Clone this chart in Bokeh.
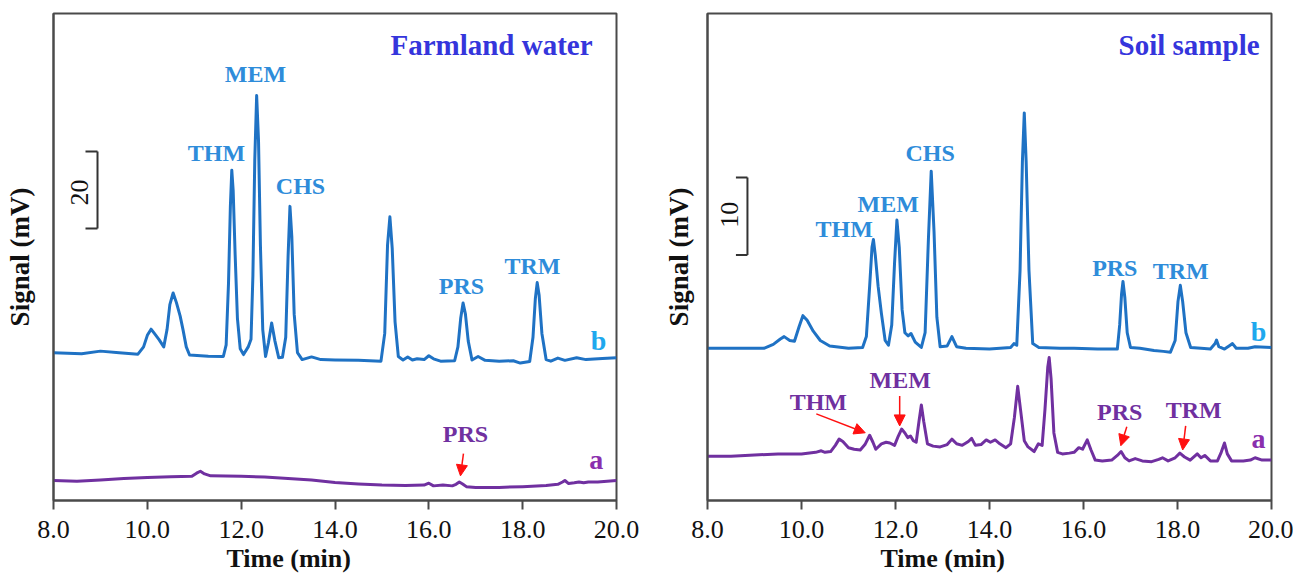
import math
from bokeh.plotting import figure
from bokeh.layouts import row
from bokeh.models import Range1d, FixedTicker, PrintfTickFormatter, Label, Arrow, NormalHead, Title
from bokeh.embed import file_html
from bokeh.resources import INLINE

# ---------------- data ----------------
TICKS = [8, 10, 12, 14, 16, 18, 20]

# Farmland water, trace b (spiked), signal in mV above its baseline
FW_B_T = [8.0, 8.6, 9.0, 9.4, 9.8, 9.92, 10.0, 10.08, 10.15, 10.25, 10.35, 10.42, 10.48, 10.55,
          10.62, 10.7, 10.76, 10.83, 10.9, 11.3, 11.62, 11.68, 11.73, 11.77, 11.8, 11.83, 11.87,
          11.92, 11.98, 12.05, 12.15, 12.21, 12.25, 12.29, 12.33, 12.37, 12.41, 12.46, 12.52,
          12.58, 12.65, 12.72, 12.8, 12.88, 12.95, 13.0, 13.04, 13.08, 13.13, 13.2, 13.3, 13.5,
          13.7, 14.0, 14.5, 14.98, 15.06, 15.12, 15.17, 15.22, 15.28, 15.35, 15.45, 15.55, 15.65,
          15.75, 15.9, 16.0, 16.1, 16.25, 16.55, 16.62, 16.68, 16.73, 16.78, 16.84, 16.92, 17.05,
          17.2, 17.5, 17.8, 17.95, 18.15, 18.22, 18.27, 18.31, 18.35, 18.41, 18.5, 18.6, 18.75,
          18.9, 19.15, 19.35, 19.7, 20.0]
FW_B_S = [0.0, -0.3, 0.4, 0.0, -0.4, 1.5, 4.5, 6.1, 5.0, 3.4, 1.5, 6.0, 12.5, 15.5,
          13.0, 9.5, 6.0, 1.5, -0.6, -0.9, -1.0, 2.0, 18.0, 38.0, 47.4, 42.0, 26.0,
          9.0, 1.0, -0.5, 1.5, 3.5, 20.0, 50.0, 66.8, 55.0, 28.0, 6.0, -1.0,
          2.5, 7.7, 3.0, -1.3, -1.2, 4.0, 25.0, 38.0, 30.0, 10.0, 0.0, -1.8, -1.1,
          -1.8, -1.9, -2.0, -2.2, 5.0, 28.0, 35.3, 27.0, 8.0, -1.0, -1.9, -1.1, -1.9,
          -1.6, -1.8, -0.8, -1.6, -2.2, -2.1, 1.5, 9.0, 12.9, 10.0, 3.0, -1.9, -1.0,
          -2.0, -2.2, -2.1, -2.7, -2.3, 4.0, 14.0, 18.2, 15.0, 5.0, -1.8, -2.2, -1.4,
          -2.0, -1.3, -1.8, -1.5, -1.3]

# Farmland water, trace a (sample)
FW_A_T = [8.0, 8.5, 9.0, 9.5, 10.0, 10.5, 10.95, 11.05, 11.13, 11.22, 11.35, 12.0, 12.5, 13.0,
          13.5, 14.0, 14.5, 15.0, 15.5, 15.9, 16.0, 16.1, 16.3, 16.5, 16.58, 16.65, 16.72, 16.8,
          17.0, 17.5, 18.0, 18.5, 18.75, 18.85, 18.9, 18.98, 19.1, 19.2, 19.3, 19.4, 19.6, 20.0]
FW_A_S = [0.0, -0.2, 0.1, 0.5, 0.8, 1.0, 1.1, 1.9, 2.4, 1.7, 1.2, 1.1, 0.9, 0.5,
          0.1, -0.5, -0.9, -1.2, -1.3, -1.2, -0.7, -1.4, -1.2, -1.4, -1.0, -0.4, -0.9, -1.6,
          -1.8, -1.8, -1.6, -1.3, -1.0, -0.4, 0.0, -0.8, -0.6, -0.4, -0.6, -0.4, -0.4, 0.0]

# Soil sample, trace b (spiked)
SS_B_T = [8.0, 9.2, 9.4, 9.55, 9.63, 9.75, 9.85, 9.95, 10.03, 10.12, 10.25, 10.4, 10.6, 11.0,
          11.3, 11.38, 11.45, 11.5, 11.53, 11.57, 11.63, 11.7, 11.78, 11.85, 11.92, 11.98, 12.03,
          12.08, 12.14, 12.2, 12.27, 12.33, 12.42, 12.55, 12.63, 12.7, 12.76, 12.82, 12.88, 12.95,
          13.1, 13.2, 13.3, 13.5, 14.0, 14.45, 14.52, 14.58, 14.65, 14.7, 14.74, 14.78, 14.84,
          14.92, 15.05, 15.5, 15.8, 16.3, 16.72, 16.77, 16.81, 16.84, 16.88, 16.93, 17.0, 17.2,
          17.5, 17.7, 17.85, 17.95, 18.01, 18.06, 18.11, 18.18, 18.28, 18.5, 18.7, 18.8, 18.83,
          18.88, 19.0, 19.12, 19.17, 19.25, 19.5, 19.65, 20.0]
SS_B_S = [0.0, 0.0, 0.5, 1.2, 1.5, 1.0, 0.9, 2.8, 4.2, 3.6, 2.2, 1.0, 0.3, 0.0,
          0.1, 1.5, 8.0, 13.0, 14.0, 12.0, 8.0, 4.5, 1.0, 0.4, 3.0, 11.0, 16.5,
          13.0, 5.0, 2.0, 1.6, 1.9, 0.8, 0.1, 2.0, 14.0, 22.8, 15.0, 4.0, 0.2,
          0.3, 1.5, 0.2, 0.0, -0.1, 0.1, 0.6, 0.4, 10.0, 24.0, 30.3, 24.0, 10.0,
          0.6, 0.1, 0.0, 0.0, -0.1, -0.1, 3.0, 7.0, 8.6, 6.5, 2.0, 0.1, 0.0,
          -0.3, -0.4, -0.5, 1.0, 6.0, 8.1, 6.0, 2.0, 0.1, 0.0, -0.1, 0.6, 1.05,
          0.2, -0.1, 0.4, 0.6, 0.0, 0.0, 0.2, 0.1]

# Soil sample, trace a (sample)
SS_A_T = [8.0, 8.5, 9.0, 9.5, 10.0, 10.3, 10.42, 10.5, 10.62, 10.72, 10.8, 10.88, 11.0, 11.12,
          11.25, 11.35, 11.45, 11.52, 11.58, 11.7, 11.8, 11.88, 11.98, 12.06, 12.13, 12.2, 12.26,
          12.32, 12.38, 12.44, 12.5, 12.55, 12.6, 12.68, 12.8, 12.95, 13.1, 13.2, 13.3, 13.42,
          13.55, 13.62, 13.7, 13.82, 13.93, 14.02, 14.12, 14.22, 14.35, 14.45, 14.53, 14.6, 14.66,
          14.74, 14.82, 14.95, 15.04, 15.12, 15.18, 15.24, 15.27, 15.31, 15.37, 15.45, 15.55, 15.7,
          15.8, 15.9, 15.98, 16.08, 16.16, 16.25, 16.4, 16.6, 16.72, 16.8, 16.88, 16.97, 17.1,
          17.25, 17.45, 17.6, 17.68, 17.8, 17.95, 18.05, 18.15, 18.27, 18.42, 18.5, 18.58, 18.7,
          18.85, 18.93, 19.0, 19.06, 19.15, 19.4, 19.55, 19.65, 19.8, 20.0]
SS_A_S = [0.0, 0.0, 0.15, 0.3, 0.3, 0.5, 0.7, 0.5, 0.6, 1.4, 2.2, 1.9, 1.1, 0.9,
          0.8, 1.5, 2.7, 1.8, 0.9, 1.6, 1.8, 1.7, 1.4, 2.6, 3.5, 3.0, 2.4,
          2.6, 2.0, 1.8, 4.5, 6.6, 4.5, 1.6, 1.3, 1.2, 1.5, 2.2, 1.6, 1.4,
          1.9, 2.3, 1.4, 1.5, 2.1, 1.8, 2.1, 1.6, 1.1, 1.6, 5.0, 9.0, 6.0,
          2.0, 1.2, 0.6, 1.6, 1.4, 6.0, 11.5, 12.7, 10.0, 3.0, 0.5, 0.3, 0.4,
          0.5, 1.1, 0.9, 2.1, 0.8, -0.5, -0.6, -0.5, 0.1, 0.6, -0.2, -0.6, -0.3,
          -0.6, -0.7, -0.4, -0.2, -0.6, -0.2, 0.4, -0.1, -0.5, 0.3, -0.2, 0.1, -0.6,
          -0.6, 0.5, 1.7, 0.3, -0.6, -0.6, -0.5, -0.2, -0.5, -0.5]

# ---------------- style ----------------
SERIF = "Liberation Serif"
C_B = "#1f72c4"
C_A = "#7030a0"
C_LBL_B = "#2e8cda"
C_LBL_A = "#7030a0"
C_TITLE = "#3535dc"
C_RED = "#ff1010"
C_FRAME = "#4a4a4a"


def make_panel(width, ymax, min_left, min_right, min_bottom, ylabel_standoff):
    p = figure(width=width, height=583, x_range=Range1d(8, 20), y_range=Range1d(0, ymax),
               output_backend="svg", toolbar_location=None,
               min_border_left=min_left, min_border_right=min_right,
               min_border_top=13, min_border_bottom=min_bottom)
    p.grid.visible = False
    p.outline_line_color = C_FRAME
    p.outline_line_width = 2
    p.xaxis.ticker = FixedTicker(ticks=TICKS)
    p.xaxis.formatter = PrintfTickFormatter(format="%.1f")
    p.xaxis.major_tick_out = 9
    p.xaxis.major_tick_in = 0
    p.xaxis.minor_tick_line_color = None
    p.xaxis.major_tick_line_color = C_FRAME
    p.xaxis.major_tick_line_width = 2
    p.xaxis.axis_line_color = C_FRAME
    p.xaxis.axis_line_width = 2
    p.xaxis.major_label_text_font = SERIF
    p.xaxis.major_label_text_font_size = "26px"
    p.xaxis.major_label_text_color = "#111111"
    p.xaxis.major_label_text_line_height = 1.0
    p.xaxis.major_label_standoff = 11
    p.yaxis.ticker = FixedTicker(ticks=[])
    p.yaxis.minor_tick_line_color = None
    p.yaxis.major_tick_line_color = None
    p.yaxis.major_tick_out = 0
    p.yaxis.major_tick_in = 0
    p.yaxis.major_label_standoff = 0
    p.yaxis.major_label_text_font_size = "0px"
    p.yaxis.axis_line_color = C_FRAME
    p.yaxis.axis_line_width = 2
    p.yaxis.axis_label = "Signal (mV)"
    p.yaxis.axis_label_text_font = SERIF
    p.yaxis.axis_label_text_font_size = "27px"
    p.yaxis.axis_label_text_font_style = "bold"
    p.yaxis.axis_label_text_color = "#111111"
    p.yaxis.axis_label_standoff = ylabel_standoff
    p.add_layout(Title(text="Time (min)", align="left", offset=173, standoff=3,
                       text_font=SERIF, text_font_size="26px", text_font_style="bold",
                       text_line_height=1.0, text_color="#111111"), "below")
    return p


def txt(p, x, y, s, color, size, bold=True, align="center", angle=0.0):
    p.add_layout(Label(x=x, y=y, text=s, text_color=color, text_font=SERIF,
                       text_font_size=size, text_font_style="bold" if bold else "normal",
                       text_align=align, text_baseline="middle", angle=angle))


def arrow(p, x0, y0, x1, y1):
    p.add_layout(Arrow(x_start=x0, y_start=y0, x_end=x1, y_end=y1, line_color=C_RED,
                       line_width=1.5,
                       end=NormalHead(size=11, fill_color=C_RED, line_color=C_RED)))


# ---------------- left panel: Farmland water ----------------
FW_B_OFF, FW_A_OFF = 38.4, 5.2
p1 = make_panel(660, 126.5, 53, 44, 83, 19)
p1.line(FW_B_T, [s + FW_B_OFF for s in FW_B_S], line_color=C_B, line_width=3, line_join="round")
p1.line(FW_A_T, [s + FW_A_OFF for s in FW_A_S], line_color=C_A, line_width=3, line_join="round")
# scale bar 20 mV
p1.segment(x0=[8.938, 8.682, 8.682], y0=[70.65, 90.65, 70.65],
           x1=[8.938, 8.938, 8.938], y1=[90.65, 90.65, 70.65], line_color="#333333", line_width=2)
txt(p1, 8.554, 80.0, "20", "#111111", "26px", bold=False, angle=math.pi / 2)
txt(p1, 19.49, 118.2, "Farmland water", C_TITLE, "29px", align="right")
txt(p1, 11.474, 90.3, "THM", C_LBL_B, "24px")
txt(p1, 12.305, 110.8, "MEM", C_LBL_B, "24px")
txt(p1, 13.264, 81.8, "CHS", C_LBL_B, "24px")
txt(p1, 16.696, 55.6, "PRS", C_LBL_B, "24px")
txt(p1, 18.209, 61.0, "TRM", C_LBL_B, "24px")
txt(p1, 19.616, 41.6, "b", "#1ea8ee", "28px")
txt(p1, 19.57, 10.6, "a", "#8a2fae", "28px")
txt(p1, 16.78, 17.4, "PRS", C_LBL_A, "24px")
arrow(p1, 16.738, 12.2, 16.674, 6.4)

# ---------------- right panel: Soil sample ----------------
SS_B_OFF, SS_A_OFF = 19.6, 5.7
p2 = make_panel(633, 62.7, 46, 22, 81, 14)
p2.line(SS_B_T, [s + SS_B_OFF for s in SS_B_S], line_color=C_B, line_width=3, line_join="round")
p2.line(SS_A_T, [s + SS_A_OFF for s in SS_A_S], line_color=C_A, line_width=3, line_join="round")
p2.segment(x0=[8.85, 8.605, 8.605], y0=[31.6, 41.6, 31.6],
           x1=[8.85, 8.85, 8.85], y1=[41.6, 41.6, 31.6], line_color="#333333", line_width=2)
txt(p2, 8.467, 36.8, "10", "#111111", "26px", bold=False, angle=math.pi / 2)
txt(p2, 19.746, 58.6, "Soil sample", C_TITLE, "29px", align="right")
txt(p2, 10.910, 35.0, "THM", C_LBL_B, "24px")
txt(p2, 11.845, 38.2, "MEM", C_LBL_B, "24px")
txt(p2, 12.737, 44.7, "CHS", C_LBL_B, "24px")
txt(p2, 16.666, 29.9, "PRS", C_LBL_B, "24px")
txt(p2, 18.068, 29.5, "TRM", C_LBL_B, "24px")
txt(p2, 19.725, 21.8, "b", "#1ea8ee", "28px")
txt(p2, 10.358, 12.7, "THM", C_LBL_A, "24px")
txt(p2, 12.099, 15.5, "MEM", C_LBL_A, "24px")
txt(p2, 16.772, 11.4, "PRS", C_LBL_A, "24px")
txt(p2, 18.344, 11.7, "TRM", C_LBL_A, "24px")
txt(p2, 19.725, 8.0, "a", "#8a2fae", "28px")
arrow(p2, 10.315, 11.15, 11.356, 8.72)
arrow(p2, 12.089, 13.46, 12.089, 9.6)
arrow(p2, 16.921, 9.49, 16.794, 7.05)
arrow(p2, 18.174, 9.6, 18.11, 6.5)

layout = row(p1, p2)
open("out.html", "w").write(file_html(layout, INLINE))
